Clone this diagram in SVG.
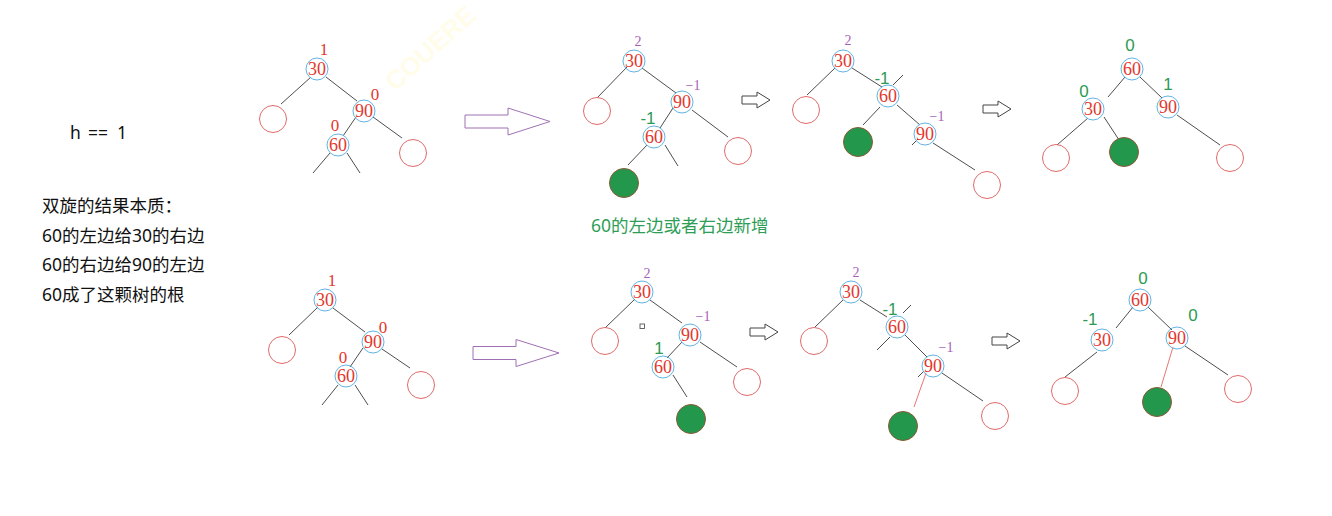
<svg xmlns="http://www.w3.org/2000/svg" width="1332" height="516" viewBox="0 0 1332 516">
<style>
.bg{fill:#ffffff}
.n circle{fill:none;stroke:#62b3e3;stroke-width:1}
.n text{font-family:"Liberation Serif",serif;font-size:18px;fill:#e4372d;text-anchor:middle;dominant-baseline:central}
.leaf{fill:none;stroke:#e06a6a;stroke-width:1}
.gr{fill:#23974c;stroke:#8a5a38;stroke-width:1}
.e line{stroke:#3a3a3a;stroke-width:0.9}
.e line.r{stroke:#e2685f}
.lr,.lp,.lg{text-anchor:middle;dominant-baseline:central}
.lr{font-family:"Liberation Serif",serif;font-size:17px;fill:#e4372d}
.lp{font-family:"Liberation Serif",serif;font-size:14px;fill:#a55fb8}
.lg{font-family:"Liberation Sans",sans-serif;font-size:17px;fill:#2d9a54}
.txt{font-family:"Noto Sans","Noto Sans CJK SC",sans-serif;font-size:17.5px;fill:#111}
.gt{font-family:"Noto Sans","Noto Sans CJK SC",sans-serif;font-size:17.5px;fill:#2e9e57}
.big{fill:#fff;stroke:#a070b4;stroke-width:1}
.sm{fill:#fff;stroke:#444;stroke-width:1}
</style>
<rect class="bg" x="0" y="0" width="1332" height="516"/>
<text x="395" y="92" transform="rotate(-42 395 92)" font-family="Liberation Sans,sans-serif" font-weight="bold" font-size="26" fill="#fffdea">COUERE</text>

<g id="notes">
<text class="txt" y="139"><tspan x="70">h</tspan><tspan x="88">==</tspan><tspan x="117">1</tspan></text>
<text class="txt" x="42" y="212">双旋的结果本质：</text>
<text class="txt" x="42" y="241.5">60的左边给30的右边</text>
<text class="txt" x="42" y="271">60的右边给90的左边</text>
<text class="txt" x="42" y="300.5">60成了这颗树的根</text>
<text class="gt" x="591" y="232">60的左边或者右边新增</text>
</g>

<g id="connectors" class="e">
<!-- tree A -->
<line x1="311" y1="77" x2="281" y2="104"/><line x1="326" y1="77" x2="357" y2="101"/>
<line x1="356" y1="117" x2="343" y2="136"/><line x1="373" y1="117" x2="402" y2="138"/>
<line x1="330" y1="153" x2="313" y2="173"/><line x1="347" y1="153" x2="360" y2="173"/>
<!-- tree B -->
<line x1="627" y1="67" x2="597" y2="98"/><line x1="642" y1="68" x2="676" y2="93"/>
<line x1="673" y1="108" x2="660" y2="128"/><line x1="692" y1="110" x2="728" y2="137"/>
<line x1="647" y1="145" x2="628" y2="165"/><line x1="665" y1="145" x2="678" y2="166"/>
<!-- tree C -->
<line x1="835" y1="68" x2="807" y2="95"/><line x1="852" y1="68" x2="882" y2="87"/>
<line x1="880" y1="107" x2="863" y2="125"/><line x1="897" y1="105" x2="920" y2="125"/>
<line x1="933" y1="143" x2="975" y2="170"/>
<line x1="893" y1="85" x2="903" y2="75"/><line x1="912" y1="145" x2="918" y2="139"/>
<!-- tree D -->
<line x1="1125" y1="77" x2="1108" y2="97"/><line x1="1140" y1="77" x2="1162" y2="98"/>
<line x1="1088" y1="118" x2="1057" y2="145"/><line x1="1104" y1="117" x2="1123" y2="146"/>
<line x1="1177" y1="115" x2="1220" y2="145"/>
<!-- tree E -->
<line x1="318" y1="307" x2="289" y2="335"/><line x1="333" y1="308" x2="365" y2="332"/>
<line x1="363" y1="348" x2="350" y2="367"/><line x1="382" y1="349" x2="410" y2="368"/>
<line x1="338" y1="385" x2="322" y2="405"/><line x1="355" y1="385" x2="368" y2="405"/>
<!-- tree F -->
<line x1="635" y1="299" x2="605" y2="328"/><line x1="650" y1="300" x2="682" y2="323"/>
<line x1="682" y1="342" x2="667" y2="358"/><line x1="700" y1="342" x2="737" y2="367"/>
<line x1="673" y1="375" x2="687" y2="397"/>
<!-- tree G -->
<line x1="843" y1="300" x2="815" y2="327"/><line x1="860" y1="300" x2="887" y2="317"/>
<line x1="905" y1="335" x2="927" y2="357"/><line class="r" x1="926" y1="373" x2="914" y2="407"/>
<line x1="942" y1="373" x2="983" y2="401"/>
<line x1="903" y1="313" x2="911" y2="305"/><line x1="890" y1="337" x2="877" y2="350"/>
<line x1="918" y1="377" x2="924" y2="371"/>
<!-- tree H -->
<line x1="1133" y1="307" x2="1116" y2="328"/><line x1="1148" y1="307" x2="1172" y2="330"/>
<line x1="1097" y1="352" x2="1065" y2="377"/><line class="r" x1="1173" y1="347" x2="1161" y2="387"/>
<line x1="1185" y1="346" x2="1228" y2="375"/>
</g>

<g id="arrows">
<path class="big" d="M0,-6.5H43V-13.5L85,0L43,13.5V6.5H0Z" transform="translate(465 121.5)"/>
<path class="big" d="M0,-6.5H43V-13.5L86,0L43,13.5V6.5H0Z" transform="translate(473 353)"/>
<path class="sm" d="M0,-4H15V-8L28,0L15,8V4H0Z" transform="translate(742 100)"/>
<path class="sm" d="M0,-4H15V-8L28,0L15,8V4H0Z" transform="translate(983 109)"/>
<path class="sm" d="M0,-4H15V-8L28,0L15,8V4H0Z" transform="translate(750 332)"/>
<path class="sm" d="M0,-4H15V-8L28,0L15,8V4H0Z" transform="translate(992 341)"/>
</g>

<!-- Tree A -->
<g id="a30" class="n"><circle cx="317" cy="69" r="11"/><text x="317" y="69">30</text></g>
<g id="a90" class="n"><circle cx="364" cy="111" r="11"/><text x="364" y="111">90</text></g>
<g id="a60" class="n"><circle cx="338" cy="145" r="11"/><text x="338" y="145">60</text></g>
<g id="aL"><circle class="leaf" cx="273" cy="119" r="13.5"/></g>
<g id="aR"><circle class="leaf" cx="413" cy="153" r="13.5"/></g>
<g id="aLab"><text class="lr" x="324" y="49">1</text><text class="lr" x="375" y="94">0</text><text class="lr" x="335" y="125">0</text></g>

<!-- Tree B -->
<g id="b30" class="n"><circle cx="634" cy="61" r="11"/><text x="634" y="61">30</text></g>
<g id="b90" class="n"><circle cx="682" cy="102" r="11"/><text x="682" y="102">90</text></g>
<g id="b60" class="n"><circle cx="654" cy="137" r="11"/><text x="654" y="137">60</text></g>
<g id="bL"><circle class="leaf" cx="597" cy="111" r="13.5"/></g>
<g id="bR"><circle class="leaf" cx="738" cy="151" r="13.5"/></g>
<g id="bG"><circle class="gr" cx="624" cy="183" r="14.5"/></g>
<g id="bLab"><text class="lp" x="638" y="41">2</text><text class="lp" x="693" y="85">−1</text><text class="lg" x="648" y="118">-1</text></g>

<!-- Tree C -->
<g id="c30" class="n"><circle cx="843" cy="61" r="11"/><text x="843" y="61">30</text></g>
<g id="c60" class="n"><circle cx="888" cy="96" r="11"/><text x="888" y="96">60</text></g>
<g id="c90" class="n"><circle cx="925" cy="134" r="11"/><text x="925" y="134">90</text></g>
<g id="cL"><circle class="leaf" cx="806" cy="110" r="13.5"/></g>
<g id="cG"><circle class="gr" cx="858" cy="142" r="14.5"/></g>
<g id="cR"><circle class="leaf" cx="987" cy="185" r="13.5"/></g>
<g id="cLab"><text class="lp" x="848" y="40">2</text><text class="lg" x="882" y="78">-1</text><text class="lp" x="937" y="116">−1</text></g>

<!-- Tree D -->
<g id="d60" class="n"><circle cx="1132" cy="69" r="11"/><text x="1132" y="69">60</text></g>
<g id="d30" class="n"><circle cx="1093" cy="109" r="11"/><text x="1093" y="109">30</text></g>
<g id="d90" class="n"><circle cx="1168" cy="107" r="11"/><text x="1168" y="107">90</text></g>
<g id="dL"><circle class="leaf" cx="1056" cy="158" r="13.5"/></g>
<g id="dG"><circle class="gr" cx="1124" cy="152" r="14.5"/></g>
<g id="dR"><circle class="leaf" cx="1230" cy="158" r="13.5"/></g>
<g id="dLab"><text class="lg" x="1130" y="45">0</text><text class="lg" x="1084" y="91">0</text><text class="lg" x="1168" y="84">1</text></g>

<!-- Tree E -->
<g id="e30" class="n"><circle cx="325" cy="300" r="11"/><text x="325" y="300">30</text></g>
<g id="e90" class="n"><circle cx="373" cy="342" r="11"/><text x="373" y="342">90</text></g>
<g id="e60" class="n"><circle cx="346" cy="376" r="11"/><text x="346" y="376">60</text></g>
<g id="eL"><circle class="leaf" cx="282" cy="350" r="13.5"/></g>
<g id="eR"><circle class="leaf" cx="421" cy="385" r="13.5"/></g>
<g id="eLab"><text class="lr" x="332" y="280">1</text><text class="lr" x="383" y="327">0</text><text class="lr" x="343" y="357">0</text></g>

<!-- Tree F -->
<g id="f30" class="n"><circle cx="642" cy="292" r="11"/><text x="642" y="292">30</text></g>
<g id="f90" class="n"><circle cx="690" cy="335" r="11"/><text x="690" y="335">90</text></g>
<g id="f60" class="n"><circle cx="663" cy="367" r="11"/><text x="663" y="367">60</text></g>
<g id="fL"><circle class="leaf" cx="605" cy="341" r="13.5"/></g>
<g id="fR"><circle class="leaf" cx="747" cy="382" r="13.5"/></g>
<g id="fG"><circle class="gr" cx="691" cy="419" r="14.5"/></g>
<g id="fSq"><rect x="640" y="324" width="4.5" height="4.5" fill="none" stroke="#555" stroke-width="0.9"/></g>
<g id="fLab"><text class="lp" x="647" y="273">2</text><text class="lp" x="703" y="316">−1</text><text class="lg" x="659" y="348">1</text></g>

<!-- Tree G -->
<g id="g30" class="n"><circle cx="851" cy="292" r="11"/><text x="851" y="292">30</text></g>
<g id="g60" class="n"><circle cx="897" cy="327" r="11"/><text x="897" y="327">60</text></g>
<g id="g90" class="n"><circle cx="933" cy="366" r="11"/><text x="933" y="366">90</text></g>
<g id="gL"><circle class="leaf" cx="814" cy="341" r="13.5"/></g>
<g id="gG"><circle class="gr" cx="903" cy="426" r="14.5"/></g>
<g id="gR"><circle class="leaf" cx="995" cy="416" r="13.5"/></g>
<g id="gLab"><text class="lp" x="856" y="272">2</text><text class="lg" x="890" y="309">-1</text><text class="lp" x="946" y="347">−1</text></g>

<!-- Tree H -->
<g id="h60" class="n"><circle cx="1140" cy="300" r="11"/><text x="1140" y="300">60</text></g>
<g id="h30" class="n"><circle cx="1102" cy="340" r="11"/><text x="1102" y="340">30</text></g>
<g id="h90" class="n"><circle cx="1177" cy="338" r="11"/><text x="1177" y="338">90</text></g>
<g id="hL"><circle class="leaf" cx="1065" cy="391" r="13.5"/></g>
<g id="hG"><circle class="gr" cx="1157" cy="402" r="14.5"/></g>
<g id="hR"><circle class="leaf" cx="1238" cy="389" r="13.5"/></g>
<g id="hLab"><text class="lg" x="1143" y="278">0</text><text class="lg" x="1090" y="319">-1</text><text class="lg" x="1193" y="315">0</text></g>
</svg>
